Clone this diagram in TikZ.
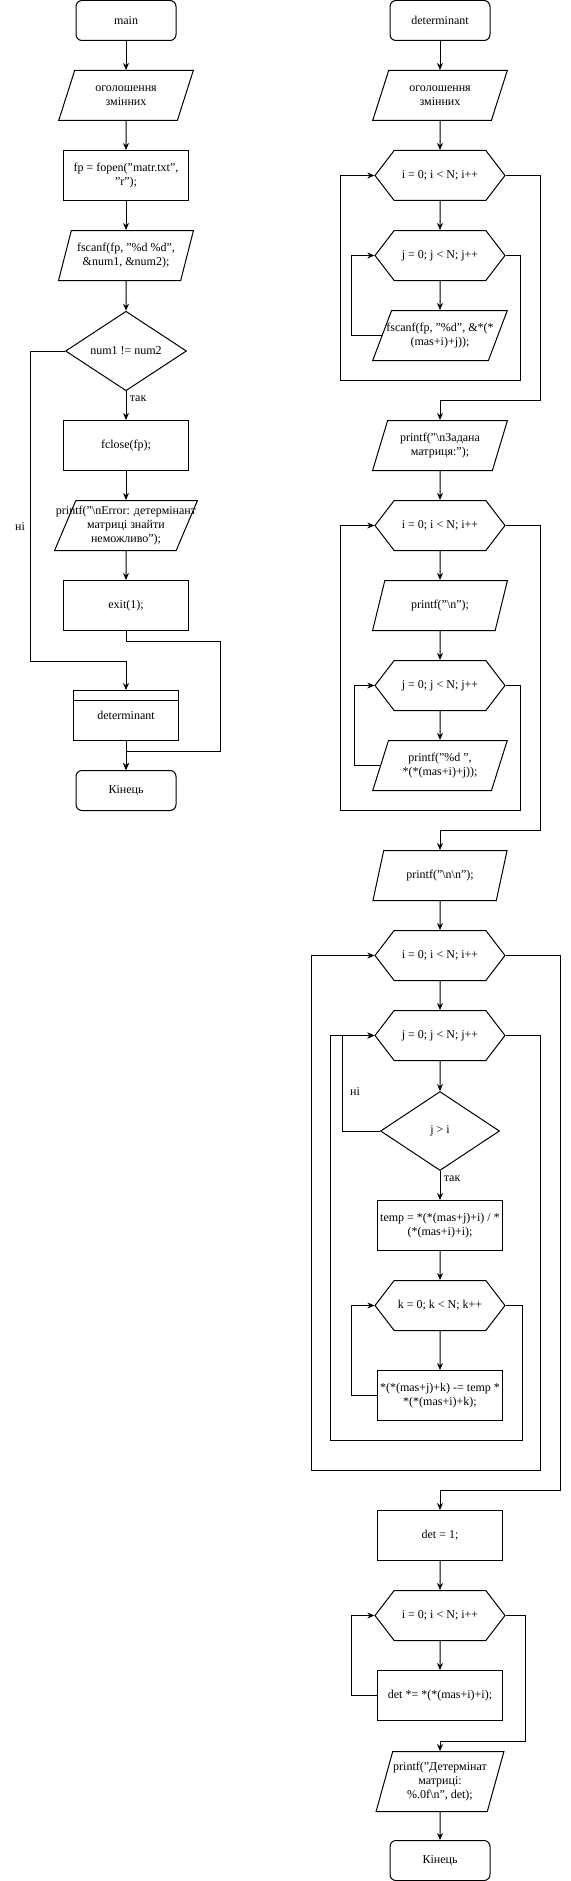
\documentclass[tikz,border=0pt]{standalone}
\usepackage{fontspec}
\setmainfont{Liberation Serif}
\usetikzlibrary{positioning,shapes.geometric,shapes.symbols,arrows.meta}

\begin{document}
\begin{tikzpicture}[x=1pt, y=-1pt, font=\fontsize{12}{13.8}\selectfont, line width=1pt, node distance=80pt,
   term/.style={rectangle, rounded corners=6pt, draw=black, minimum width=100pt, minimum height=40pt},
   proc/.style={rectangle, draw=black, minimum width=125pt, minimum height=50pt, align=center, inner xsep=1pt},
   io/.style={trapezium, trapezium left angle=70, trapezium right angle=110, trapezium stretches=true, draw=black, minimum width=135pt, minimum height=50pt, align=center, inner xsep=0pt},
   forbox/.style={signal, signal to=west and east, signal pointer angle=105, draw=black, minimum width=130pt, minimum height=50pt},
   decision/.style={diamond, draw=black, minimum width=121pt, minimum height=79pt, inner sep=0pt},
   subr/.style={rectangle, draw=black, minimum width=105pt, minimum height=50pt},
   flow/.style={-{Stealth[length=7pt, width=6pt]}}]
      \useasboundingbox (0,0) rectangle (570,1881);

      \node[term, name=main] at (126,20.5) {main};
      \node[io, name=decl1, node distance=75pt, below of=main] {оголошення\\змінних};
      \node[proc, name=fopen, below of=decl1] {fp = fopen("matr.txt",\\"r");};
      \node[io, name=scan1, below of=fopen] {fscanf(fp, "\%d \%d",\\\&num1, \&num2);};
      \node[decision, name=check, node distance=95.5pt, below of=scan1] {num1 != num2};
      \node[proc, name=fclose, node distance=94.5pt, below of=check] {fclose(fp);};
      \node[io, name=err, minimum width=143pt, below of=fclose] {\makebox[0pt]{printf("\textbackslash nError: детермінант}\\матриці знайти\\неможливо");};
      \node[proc, name=exit, below of=err] {exit(1);};
      \node[subr, name=call, node distance=110pt, below of=exit] {determinant};
      \node[term, name=end1, node distance=75pt, below of=call] {Кінець};
      \node[name=no1] at (20,527) {ні};

      \draw ([yshift=-10pt]call.north west) -- ([yshift=-10pt]call.north east);

      \path[flow]
         (main) edge (decl1)
         (decl1) edge (fopen)
         (fopen) edge (scan1)
         (scan1) edge (check)
         (check) edge node[near start, right, name=yes1] {так} (fclose)
         (fclose) edge (err)
         (err) edge (exit)
         (call) edge (end1);
      \draw[flow] (check.west) -- ++(-35,0) -- ++(0,310) -| (call.north);
      \draw[flow] (exit.south) -- ++(0,10) -- ++(94,0) -- ++(0,110) -| (end1.north);

      \node[term, name=det] at (440,20.5) {determinant};
      \node[io, name=decl2, node distance=75pt, below of=det] {оголошення\\змінних};
      \node[forbox, name=fori1, below of=decl2] {i = 0; i < N; i++};
      \node[forbox, name=forj1, below of=fori1] {j = 0; j < N; j++};
      \node[io, name=scan2, below of=forj1] {\makebox[0pt]{fscanf(fp, "\%d", \&*(*}\\(mas+i)+j));};
      \node[io, name=show, node distance=110pt, below of=scan2] {printf("\textbackslash nЗадана\\матриця:");};
      \node[forbox, name=fori2, below of=show] {i = 0; i < N; i++};
      \node[io, name=nl, below of=fori2] {printf("\textbackslash n");};
      \node[forbox, name=forj2, below of=nl] {j = 0; j < N; j++};
      \node[io, name=elem, below of=forj2] {printf("\%d ",\\*(*(mas+i)+j));};
      \node[io, name=nlnl, node distance=110pt, below of=elem] {printf("\textbackslash n\textbackslash n");};
      \node[forbox, name=fori3, below of=nlnl] {i = 0; i < N; i++};
      \node[forbox, name=forj3, below of=fori3] {j = 0; j < N; j++};
      \node[decision, name=jgti, minimum width=119pt, node distance=95.5pt, below of=forj3] {j > i};
      \node[proc, name=temp, node distance=94.5pt, below of=jgti] {temp = *(*(mas+j)+i) / *\\(*(mas+i)+i);};
      \node[forbox, name=fork, below of=temp] {k = 0; k < N; k++};
      \node[proc, name=sub, node distance=90pt, below of=fork] {*(*(mas+j)+k) -= temp *\\*(*(mas+i)+k);};
      \node[proc, name=detone, node distance=140pt, below of=sub] {det = 1;};
      \node[forbox, name=fori4, below of=detone] {i = 0; i < N; i++};
      \node[proc, name=mult, below of=fori4] {det *= *(*(mas+i)+i);};
      \node[io, name=out, minimum width=128pt, minimum height=60pt, node distance=86pt, below of=mult] {printf("Детермінат\\матриці:\\\%.0f\textbackslash n", det);};
      \node[term, name=end2, node distance=79pt, below of=out] {Кінець};
      \node[name=no2] at (355,1092) {ні};

      \path[flow]
         (det) edge (decl2)
         (decl2) edge (fori1)
         (fori1) edge (forj1)
         (forj1) edge (scan2)
         (show) edge (fori2)
         (fori2) edge (nl)
         (nl) edge (forj2)
         (forj2) edge (elem)
         (nlnl) edge (fori3)
         (fori3) edge (forj3)
         (forj3) edge (jgti)
         (jgti) edge node[near start, right, name=yes2] {так} (temp)
         (temp) edge (fork)
         (fork) edge (sub)
         (detone) edge (fori4)
         (fori4) edge (mult)
         (out) edge (end2);
      \draw[flow] (scan2.west) -- ++(-30,0) |- (forj1.west);
      \draw[flow] (forj1.east) -- ++(15,0) -- ++(0,125) -- ++(-180,0) |- (fori1.west);
      \draw[flow] (fori1.east) -- ++(35,0) -- ++(0,225) -| (show.north);
      \draw[flow] (elem.west) -- ++(-26,0) |- (forj2.west);
      \draw[flow] (forj2.east) -- ++(15,0) -- ++(0,125) -- ++(-180,0) |- (fori2.west);
      \draw[flow] (fori2.east) -- ++(35,0) -- ++(0,305) -| (nlnl.north);
      \draw[flow] (sub.west) -- ++(-26,0) |- (fork.west);
      \draw[flow] (fork.east) -- ++(17,0) -- ++(0,135) -- ++(-192,0) |- (forj3.west);
      \draw[flow] (jgti.west) -- ++(-38,0) |- (forj3.west);
      \draw[flow] (forj3.east) -- ++(35,0) -- ++(0,435) -- ++(-229,0) |- (fori3.west);
      \draw[flow] (fori3.east) -- ++(55,0) -- ++(0,535) -| (detone.north);
      \draw[flow] (mult.west) -- ++(-26,0) |- (fori4.west);
      \draw[flow] (fori4.east) -- ++(20,0) -- ++(0,126) -| (out.north);
\end{tikzpicture}
\end{document}
